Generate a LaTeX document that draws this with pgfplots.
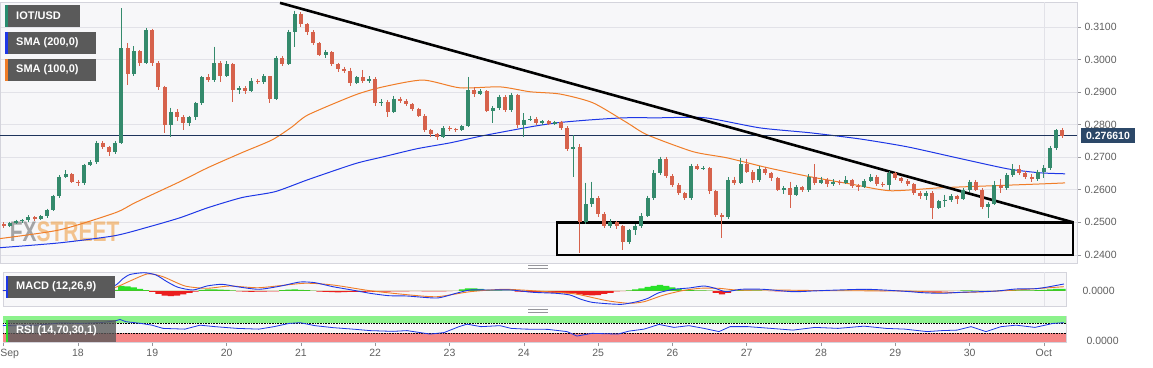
\documentclass[border=0pt]{standalone}
\usepackage{fontspec}
\setmainfont{Liberation Sans}
\usepackage{pgfplots}
\usepackage{pgfplotstable}
\pgfplotsset{compat=1.18}
\definecolor{upc}{RGB}{52,138,108}
\definecolor{dnc}{RGB}{214,98,76}
\definecolor{smab}{RGB}{30,55,230}
\definecolor{smao}{RGB}{240,125,40}
\definecolor{navy}{RGB}{30,52,92}
\definecolor{panelbg}{RGB}{247,247,249}
\definecolor{gridc}{RGB}{226,226,232}
\definecolor{borderc}{RGB}{212,212,220}
\definecolor{tickc}{RGB}{95,95,95}
\definecolor{tickmc}{RGB}{150,150,155}
\definecolor{legbg}{RGB}{90,90,90}
\definecolor{iotc}{RGB}{40,140,110}
\definecolor{histg}{RGB}{40,225,40}
\definecolor{histr}{RGB}{235,30,30}
\definecolor{rsig}{RGB}{140,242,140}
\definecolor{rsir}{RGB}{245,135,135}
\definecolor{lblbox}{RGB}{44,72,104}
\definecolor{fxgray}{RGB}{110,110,110}
\definecolor{fxorange}{RGB}{240,160,70}
\newcommand\ticklab{\fontsize{10.5}{12}\selectfont}
\newcommand\legfont{\bfseries\fontsize{11}{13}\selectfont}
\pgfplotstableread{
i o h l c d mh
0 0.2495 0.2500 0.2482 0.2490 0 0.2
1 0.2490 0.2502 0.2486 0.2498 1 0.3
2 0.2498 0.2508 0.2494 0.2503 1 0.3
3 0.2503 0.2510 0.2498 0.2506 1 0.2
4 0.2506 0.2522 0.2502 0.2515 1 0.3
5 0.2515 0.2520 0.2505 0.2510 0 0.2
6 0.2510 0.2522 0.2506 0.2518 1 0.3
7 0.2518 0.2542 0.2514 0.2538 1 0.8
8 0.2538 0.2585 0.2534 0.2580 1 1.2
9 0.2580 0.2645 0.2576 0.2640 1 1.5
10 0.2640 0.2660 0.2635 0.2648 1 1.0
11 0.2648 0.2652 0.2620 0.2625 0 0.3
12 0.2625 0.2630 0.2612 0.2620 0 -0.3
13 0.2620 0.2680 0.2616 0.2677 1 0.5
14 0.2677 0.2690 0.2672 0.2685 1 0.8
15 0.2685 0.2750 0.2680 0.2745 1 1.0
16 0.2745 0.2750 0.2725 0.2730 0 0.5
17 0.2730 0.2735 0.2705 0.2715 0 0.2
18 0.2715 0.2750 0.2710 0.2745 1 1.0
19 0.2745 0.3158 0.2740 0.3035 1 5.0
20 0.3035 0.3050 0.2922 0.2955 0 4.5
21 0.2955 0.3040 0.2950 0.3025 1 3.5
22 0.3025 0.3030 0.2980 0.2990 0 2.0
23 0.2990 0.3097 0.2985 0.3090 1 0.8
24 0.3090 0.3095 0.2980 0.2990 0 -1.0
25 0.2990 0.2995 0.2905 0.2915 0 -3.0
26 0.2915 0.2920 0.2775 0.2800 0 -4.5
27 0.2800 0.2852 0.2763 0.2840 1 -5.0
28 0.2840 0.2848 0.2810 0.2822 0 -4.5
29 0.2822 0.2830 0.2785 0.2805 0 -3.5
30 0.2805 0.2828 0.2795 0.2822 1 -2.0
31 0.2822 0.2870 0.2815 0.2865 1 -0.7
32 0.2865 0.2950 0.2860 0.2945 1 1.0
33 0.2945 0.2955 0.2930 0.2938 0 1.7
34 0.2938 0.3040 0.2930 0.2990 1 1.7
35 0.2990 0.2995 0.2930 0.2950 0 1.3
36 0.2950 0.2995 0.2945 0.2985 1 1.0
37 0.2985 0.2990 0.2870 0.2905 0 0.5
38 0.2905 0.2918 0.2895 0.2912 1 -0.5
39 0.2912 0.2918 0.2895 0.2903 0 -0.7
40 0.2903 0.2942 0.2900 0.2935 1 -0.8
41 0.2935 0.2940 0.2925 0.2930 0 -0.7
42 0.2930 0.2955 0.2925 0.2948 1 -0.6
43 0.2948 0.2950 0.2866 0.2878 0 -0.5
44 0.2878 0.3010 0.2875 0.3005 1 -0.3
45 0.3005 0.3010 0.2980 0.2985 0 0.8
46 0.2985 0.3092 0.2982 0.3085 1 1.3
47 0.3085 0.3150 0.3040 0.3140 1 1.5
48 0.3140 0.3145 0.3100 0.3108 0 1.2
49 0.3108 0.3112 0.3075 0.3085 0 0.8
50 0.3085 0.3090 0.3045 0.3050 0 0.4
51 0.3050 0.3055 0.3010 0.3015 0 -0.6
52 0.3015 0.3030 0.3005 0.3022 1 -1.0
53 0.3022 0.3025 0.2980 0.2985 0 -1.2
54 0.2985 0.2990 0.2962 0.2970 0 -1.3
55 0.2970 0.2978 0.2958 0.2966 0 -1.2
56 0.2966 0.2975 0.2920 0.2928 0 -1.0
57 0.2928 0.2950 0.2925 0.2945 1 -0.9
58 0.2945 0.2968 0.2928 0.2935 0 -0.8
59 0.2935 0.2948 0.2928 0.2940 1 -0.7
60 0.2940 0.2945 0.2858 0.2865 0 -0.8
61 0.2865 0.2878 0.2858 0.2870 1 -0.7
62 0.2870 0.2875 0.2824 0.2840 0 -0.7
63 0.2840 0.2888 0.2836 0.2880 1 -0.5
64 0.2880 0.2885 0.2865 0.2872 0 -0.4
65 0.2872 0.2878 0.2858 0.2862 0 -0.3
66 0.2862 0.2866 0.2842 0.2848 0 -0.2
67 0.2848 0.2852 0.2822 0.2828 0 -0.2
68 0.2828 0.2832 0.2776 0.2782 0 -0.4
69 0.2782 0.2788 0.2762 0.2770 0 -0.4
70 0.2770 0.2775 0.2752 0.2762 0 -0.4
71 0.2762 0.2795 0.2758 0.2790 1 -0.3
72 0.2790 0.2795 0.2780 0.2786 0 -0.2
73 0.2786 0.2790 0.2778 0.2784 0 0.2
74 0.2784 0.2800 0.2780 0.2795 1 1.5
75 0.2795 0.2947 0.2792 0.2905 1 2.5
76 0.2905 0.2915 0.2885 0.2895 0 2.7
77 0.2895 0.2910 0.2890 0.2902 1 2.0
78 0.2902 0.2906 0.2838 0.2842 0 1.0
79 0.2842 0.2856 0.2805 0.2850 1 0.5
80 0.2850 0.2892 0.2845 0.2886 1 0.5
81 0.2886 0.2890 0.2838 0.2845 0 0.4
82 0.2845 0.2898 0.2840 0.2892 1 0.4
83 0.2892 0.2895 0.2790 0.2800 0 -0.7
84 0.2800 0.2835 0.2762 0.2815 1 -1.0
85 0.2815 0.2828 0.2810 0.2818 1 -1.2
86 0.2818 0.2822 0.2800 0.2806 0 -1.3
87 0.2806 0.2814 0.2798 0.2810 1 -1.5
88 0.2810 0.2814 0.2798 0.2803 0 -1.7
89 0.2803 0.2812 0.2798 0.2808 1 -1.8
90 0.2808 0.2812 0.2785 0.2790 0 -2.0
91 0.2790 0.2795 0.2718 0.2725 0 -2.3
92 0.2725 0.2767 0.2640 0.2732 1 -2.5
93 0.2732 0.2740 0.2407 0.2502 0 -3.5
94 0.2502 0.2622 0.2495 0.2555 1 -4.0
95 0.2555 0.2625 0.2548 0.2575 1 -4.3
96 0.2575 0.2580 0.2515 0.2525 0 -4.0
97 0.2525 0.2532 0.2482 0.2490 0 -3.0
98 0.2490 0.2510 0.2482 0.2500 1 -2.0
99 0.2500 0.2505 0.2480 0.2488 0 -0.5
100 0.2488 0.2492 0.2416 0.2440 0 -0.2
101 0.2440 0.2480 0.2432 0.2475 1 0.5
102 0.2475 0.2495 0.2462 0.2488 1 1.5
103 0.2488 0.2528 0.2484 0.2520 1 2.7
104 0.2520 0.2582 0.2515 0.2575 1 4.0
105 0.2575 0.2660 0.2570 0.2650 1 5.0
106 0.2650 0.2702 0.2645 0.2695 1 6.0
107 0.2695 0.2700 0.2636 0.2642 0 5.0
108 0.2642 0.2648 0.2608 0.2615 0 3.5
109 0.2615 0.2620 0.2585 0.2590 0 2.0
110 0.2590 0.2594 0.2568 0.2574 0 1.0
111 0.2574 0.2680 0.2570 0.2672 1 0.8
112 0.2672 0.2678 0.2660 0.2665 0 0.7
113 0.2665 0.2672 0.2662 0.2667 1 0.6
114 0.2667 0.2670 0.2588 0.2595 0 0.3
115 0.2595 0.2600 0.2515 0.2522 0 -2.0
116 0.2522 0.2528 0.2453 0.2515 0 -3.3
117 0.2515 0.2638 0.2510 0.2630 1 -2.0
118 0.2630 0.2640 0.2615 0.2622 0 0.5
119 0.2622 0.2698 0.2618 0.2680 1 0.8
120 0.2680 0.2695 0.2650 0.2655 0 0.7
121 0.2655 0.2660 0.2622 0.2630 0 0.6
122 0.2630 0.2672 0.2625 0.2665 1 0.5
123 0.2665 0.2670 0.2645 0.2650 0 0.2
124 0.2650 0.2655 0.2628 0.2635 0 -0.2
125 0.2635 0.2640 0.2595 0.2600 0 -0.3
126 0.2600 0.2612 0.2588 0.2605 1 -0.3
127 0.2605 0.2625 0.2545 0.2585 0 -0.4
128 0.2585 0.2615 0.2580 0.2608 1 -0.3
129 0.2608 0.2612 0.2592 0.2598 0 -0.2
130 0.2598 0.2648 0.2594 0.2640 1 0.2
131 0.2640 0.2678 0.2615 0.2622 0 0.3
132 0.2622 0.2640 0.2618 0.2630 1 0.3
133 0.2630 0.2635 0.2608 0.2618 0 0.2
134 0.2618 0.2632 0.2612 0.2625 1 0.2
135 0.2625 0.2630 0.2615 0.2622 0 0.3
136 0.2622 0.2642 0.2618 0.2630 1 0.3
137 0.2630 0.2634 0.2606 0.2612 0 0.2
138 0.2612 0.2618 0.2596 0.2608 0 0.1
139 0.2608 0.2632 0.2604 0.2628 1 0.2
140 0.2628 0.2648 0.2624 0.2640 1 0.3
141 0.2640 0.2645 0.2612 0.2618 0 0.2
142 0.2618 0.2625 0.2608 0.2615 0 -0.1
143 0.2615 0.2658 0.2600 0.2652 1 0.2
144 0.2652 0.2655 0.2630 0.2635 0 0.1
145 0.2635 0.2640 0.2622 0.2628 0 -0.2
146 0.2628 0.2632 0.2612 0.2618 0 -0.6
147 0.2618 0.2622 0.2585 0.2590 0 -0.8
148 0.2590 0.2595 0.2572 0.2580 0 -0.8
149 0.2580 0.2595 0.2570 0.2590 1 -0.7
150 0.2590 0.2595 0.2509 0.2545 0 -0.7
151 0.2545 0.2570 0.2540 0.2565 1 -0.6
152 0.2565 0.2585 0.2548 0.2570 1 -0.4
153 0.2570 0.2586 0.2562 0.2580 1 -0.2
154 0.2580 0.2585 0.2555 0.2572 0 0.2
155 0.2572 0.2604 0.2568 0.2598 1 0.5
156 0.2598 0.2630 0.2594 0.2625 1 0.6
157 0.2625 0.2630 0.2595 0.2600 0 0.4
158 0.2600 0.2605 0.2542 0.2548 0 -0.3
159 0.2548 0.2562 0.2514 0.2556 1 -0.3
160 0.2556 0.2628 0.2552 0.2615 1 0.2
161 0.2615 0.2632 0.2590 0.2605 0 0.5
162 0.2605 0.2650 0.2600 0.2645 1 0.7
163 0.2645 0.2678 0.2640 0.2665 1 0.8
164 0.2665 0.2675 0.2645 0.2652 0 0.7
165 0.2652 0.2658 0.2634 0.2640 0 0.6
166 0.2640 0.2648 0.2625 0.2632 0 0.5
167 0.2632 0.2662 0.2628 0.2655 1 0.8
168 0.2655 0.2675 0.2635 0.2668 1 1.2
169 0.2668 0.2735 0.2662 0.2728 1 1.6
170 0.2728 0.2786 0.2722 0.2782 1 2.0
171 0.2782 0.2790 0.2760 0.27661 0 2.2
}\candles
\begin{document}
\begin{tikzpicture}
\useasboundingbox (0,0) rectangle (1153pt,367pt);
% ---------------- main price panel ----------------
\begin{axis}[
  at={(0pt,104pt)}, anchor=south west,
  scale only axis, width=1077pt, height=261pt,
  xmin=16.9502, xmax=31.4455, ymin=0.2375, ymax=0.31767,
  axis background/.style={fill=panelbg},
  axis line style={draw=borderc, line width=0.6pt},
  xtick=\empty,
  ytick={0.24,0.25,0.26,0.27,0.28,0.29,0.30,0.31},
  ytick pos=right, yticklabel pos=right,
  ymajorgrids, grid style={draw=gridc, line width=0.7pt},
  tick align=outside, major tick length=4pt,
  ytick style={draw=tickmc, line width=0.6pt},
  scaled y ticks=false,
  colormap={updown}{color=(dnc) color=(upc)},
  point meta min=0, point meta max=1,
  yticklabel style={font=\ticklab, text=tickc, /pgf/number format/.cd, fixed, fixed zerofill, precision=4, assume math mode=true},
]
\draw[gridc, line width=0.7pt] (axis cs:31,0.2375) -- (axis cs:31,0.31767);
\node[opacity=0.6, font=\bfseries\fontsize{21}{21}\selectfont, inner sep=0pt] at (axis cs:17.82,0.2471) {\scalebox{1}[1.35]{\textcolor{fxgray}{FX}\textcolor{fxorange}{STREET}}};
% wicks
\addplot[scatter, only marks, mark=|, forget plot,
  point meta=explicit,
  mark options={line width=0.9pt},
  scatter/use mapped color={draw=mapped color, fill=mapped color},
  visualization depends on={1627.79*(\thisrow{h}-\thisrow{l}) \as \wick},
  scatter/@pre marker code/.append style={/tikz/mark size=\wick, /tikz/line width=0.9pt}]
  table[x expr=17+\thisrow{i}/12, y expr=(\thisrow{h}+\thisrow{l})/2, meta=d] {\candles};
% bodies
\addplot[scatter, only marks, mark=|, forget plot,
  point meta=explicit,
  mark options={line width=4pt},
  scatter/use mapped color={draw=mapped color, fill=mapped color},
  visualization depends on={1627.79*max(abs(\thisrow{c}-\thisrow{o}),0.00025) \as \body},
  scatter/@pre marker code/.append style={/tikz/mark size=\body, /tikz/line width=4pt}]
  table[x expr=17+\thisrow{i}/12, y expr=(\thisrow{o}+\thisrow{c})/2, meta=d] {\candles};
% SMA 200
\addplot[smab, line width=1pt, smooth, tension=0.4] coordinates {
(16.950,0.2422)(17.758,0.2437)(18.498,0.2459)(18.969,0.2487)(19.373,0.2514)(19.750,0.2545)(20.207,0.2576)(20.651,0.2594)(21.096,0.2631)(21.728,0.2680)(22.105,0.2701)(22.563,0.2726)(23.007,0.2744)(23.451,0.2766)(24.084,0.2793)(24.460,0.2806)(24.918,0.2815)(25.362,0.2821)(25.806,0.2821)(26.439,0.2821)(27.179,0.2790)(27.852,0.2775)(28.525,0.2756)(29.158,0.2732)(29.831,0.2698)(30.517,0.2664)(30.948,0.2652)(31.284,0.2649)};
% SMA 100
\addplot[smao, line width=1pt, smooth, tension=0.4] coordinates {
(16.950,0.2450)(17.758,0.2477)(18.498,0.2529)(18.740,0.2557)(18.969,0.2582)(19.373,0.2625)(19.750,0.2668)(20.207,0.2714)(20.611,0.2753)(20.880,0.2793)(21.096,0.2830)(21.728,0.2891)(22.105,0.2916)(22.643,0.2937)(23.141,0.2913)(23.680,0.2916)(24.084,0.2901)(24.487,0.2894)(24.931,0.2867)(25.389,0.2806)(25.658,0.2769)(26.277,0.2717)(26.735,0.2698)(27.273,0.2668)(27.852,0.2640)(28.390,0.2618)(28.929,0.2597)(29.602,0.2606)(30.275,0.2612)(30.975,0.2618)(31.284,0.2621)};
% last price line
\addplot[navy, line width=0.7pt] coordinates {(16.9502,0.27661)(31.4455,0.27661)};
% trend line and box
\addplot[black, line width=2.6pt] coordinates {(20.719,0.3174)(31.392,0.2500)};
\draw[black, line width=2.4pt] (axis cs:24.447,0.2400) rectangle (axis cs:31.392,0.2500);
\end{axis}
% ---------------- MACD panel ----------------
\begin{axis}[
  at={(3pt,61pt)}, anchor=south west,
  scale only axis, width=1063pt, height=34pt,
  xmin=16.9906, xmax=31.2975, ymin=-15, ymax=19,
  axis background/.style={fill=panelbg},
  axis line style={draw=borderc, line width=0.6pt},
  xtick=\empty, ytick={0}, yticklabels={0.0000},
  ytick pos=right, yticklabel pos=right, ytick style={draw=none},
  yticklabel style={font=\ticklab, text=tickc, xshift=13pt},
]
\draw[gridc, line width=0.7pt] (axis cs:31,-15) -- (axis cs:31,19);
\addplot[ybar, bar width=0.0833, bar shift=0pt, fill=histg, draw=none, forget plot]
  table[x expr=17+\thisrow{i}/12, y expr={max(\thisrow{mh},0)}] {\candles};
\addplot[ybar, bar width=0.0833, bar shift=0pt, fill=histr, draw=none, forget plot]
  table[x expr=17+\thisrow{i}/12, y expr={min(\thisrow{mh},0)}] {\candles};
\addplot[smao, line width=0.9pt, smooth, tension=0.4] coordinates {
(16.990,0.3)(17.758,1)(18.296,2.5)(18.498,3.5)(18.700,10)(18.942,17.2)(19.144,14.3)(19.440,5)(19.736,2.7)(20.046,5)(20.436,3.3)(21.042,7.7)(21.432,6)(21.930,0.3)(22.428,-3.7)(22.832,-5.7)(23.276,-0.7)(23.733,1.7)(24.177,0)(24.622,-2.3)(24.770,-4)(25.120,-9.7)(25.416,-12.3)(25.618,-10.7)(25.873,-4.3)(26.129,0.3)(26.371,2.7)(26.627,2.7)(26.869,1)(27.367,1)(28.121,0.3)(29.130,0)(29.628,-1.7)(30.126,-1)(30.624,1)(31.270,4.3)};
\addplot[smab, line width=0.9pt, smooth, tension=0.4] coordinates {
(16.990,0.5)(17.489,1.0)(18.027,2.5)(18.296,3.5)(18.498,5.5)(18.600,12)(18.700,16.5)(18.888,18.3)(19.050,16)(19.198,9.3)(19.346,3.7)(19.548,1)(19.736,5)(19.938,6.7)(20.140,4.3)(20.436,1.7)(20.732,5)(20.988,9)(21.190,8.3)(21.432,4.3)(21.688,1)(21.930,-2.3)(22.186,-4.7)(22.428,-5)(22.832,-7)(23.087,-2.3)(23.276,1)(23.531,1)(23.828,1)(24.124,-1.3)(24.433,-2.3)(24.622,-4)(24.770,-8.3)(24.918,-11.3)(25.120,-12.7)(25.321,-13.3)(25.523,-10.7)(25.671,-7.3)(25.819,-1.7)(26.021,1.7)(26.223,3)(26.425,5)(26.573,2.7)(26.721,-0.7)(26.923,1.7)(27.219,1.7)(27.623,-0.7)(27.879,0)(28.121,0.7)(28.619,1.7)(29.130,-0.3)(29.373,-1.7)(29.628,-2.3)(29.871,-1.3)(30.126,-0.7)(30.369,0)(30.624,2)(30.880,2.3)(31.028,3.7)(31.270,7)};
\end{axis}
% ---------------- RSI panel ----------------
\begin{axis}[
  at={(3pt,25pt)}, anchor=south west,
  scale only axis, width=1063pt, height=26pt,
  xmin=16.9906, xmax=31.2975, ymin=-5, ymax=100,
  axis background/.style={fill=panelbg},
  axis line style={draw=borderc, line width=0.6pt},
  xtick={17,18,19,20,21,22,23,24,25,26,27,28,29,30,31},
  xticklabels={\hspace*{12pt}Sep,18,19,20,21,22,23,24,25,26,27,28,29,30,Oct},
  xtick pos=bottom, tick align=outside, major tick length=4pt,
  xtick style={draw=tickmc, line width=0.6pt},
  xticklabel style={font=\ticklab, text=tickc},
  ytick={0}, yticklabels={0.0000},
  ytick pos=right, yticklabel pos=right, ytick style={draw=none},
  yticklabel style={font=\ticklab, text=tickc, xshift=13pt},
]
\fill[rsig] (axis cs:16.9906,70) rectangle (axis cs:31.2975,100);
\fill[rsir] (axis cs:16.9906,-5) rectangle (axis cs:31.2975,30);
\draw[black, densely dotted, line width=0.6pt] (axis cs:16.9906,70) -- (axis cs:31.2975,70);
\draw[black, densely dotted, line width=0.6pt] (axis cs:16.9906,30) -- (axis cs:31.2975,30);
\addplot[smab, line width=0.8pt] coordinates {
(16.990,62)(17.219,60)(17.489,64)(17.758,72)(18.027,70)(18.296,73)(18.498,80)(18.565,86)(18.646,77)(18.848,70)(18.996,63)(19.144,50)(19.440,47)(19.642,63)(19.844,57)(20.140,50)(20.436,47)(20.638,57)(20.840,70)(20.988,73)(21.190,61)(21.432,53)(21.742,46)(21.930,41)(22.240,38)(22.428,41)(22.738,27)(22.926,33)(23.128,57)(23.236,67)(23.424,57)(23.680,61)(23.828,50)(24.030,47)(24.326,46)(24.581,37)(24.716,19)(24.918,30)(25.268,27)(25.416,39)(25.618,47)(25.819,66)(26.021,54)(26.223,61)(26.425,50)(26.627,37)(26.775,57)(27.018,57)(27.327,50)(27.623,43)(27.919,54)(28.229,50)(28.579,59)(28.875,50)(29.130,47)(29.427,37)(29.628,41)(29.830,43)(30.019,57)(30.221,37)(30.423,57)(30.624,63)(30.880,54)(31.122,70)(31.270,73)};
\end{axis}
% ---------------- overlays ----------------
\fill[legbg] (5pt,340pt) rectangle (80pt,362pt);
\fill[iotc] (5pt,340pt) rectangle (7.5pt,362pt);
\node[anchor=west, text=white, font=\legfont, inner sep=0pt] at (16pt,351pt) {IOT/USD};
\fill[legbg] (5pt,313pt) rectangle (96pt,335pt);
\fill[smab] (5pt,313pt) rectangle (7.5pt,335pt);
\node[anchor=west, text=white, font=\legfont, inner sep=0pt] at (16pt,324pt) {SMA (200,0)};
\fill[legbg] (5pt,286pt) rectangle (96pt,308pt);
\fill[smao] (5pt,286pt) rectangle (7.5pt,308pt);
\node[anchor=west, text=white, font=\legfont, inner sep=0pt] at (16pt,297pt) {SMA (100,0)};
\fill[legbg] (5.5pt,69pt) rectangle (115pt,91pt);
\fill[smab] (5.5pt,69pt) rectangle (8pt,91pt);
\node[anchor=west, text=white, font=\legfont, inner sep=0pt] at (16pt,80pt) {MACD (12,26,9)};
\fill[legbg, opacity=0.8] (5.5pt,25pt) rectangle (116pt,47pt);
\fill[histg] (5.5pt,25pt) rectangle (8pt,47pt);
\node[anchor=west, text=white, font=\legfont, inner sep=0pt] at (16pt,36pt) {RSI (14,70,30,1)};
\fill[lblbox] (1081pt,224pt) rectangle (1135pt,239pt);
\node[text=white, font=\bfseries\fontsize{10.5}{12}\selectfont, inner sep=0pt] at (1108pt,231.5pt) {0.276610};
\draw[tickmc, line width=0.8pt] (528pt,101.5pt) -- (548pt,101.5pt);
\draw[tickmc, line width=0.8pt] (528pt,99pt) -- (548pt,99pt);
\draw[tickmc, line width=0.8pt] (528pt,57.5pt) -- (548pt,57.5pt);
\draw[tickmc, line width=0.8pt] (528pt,55pt) -- (548pt,55pt);
\end{tikzpicture}
\end{document}
